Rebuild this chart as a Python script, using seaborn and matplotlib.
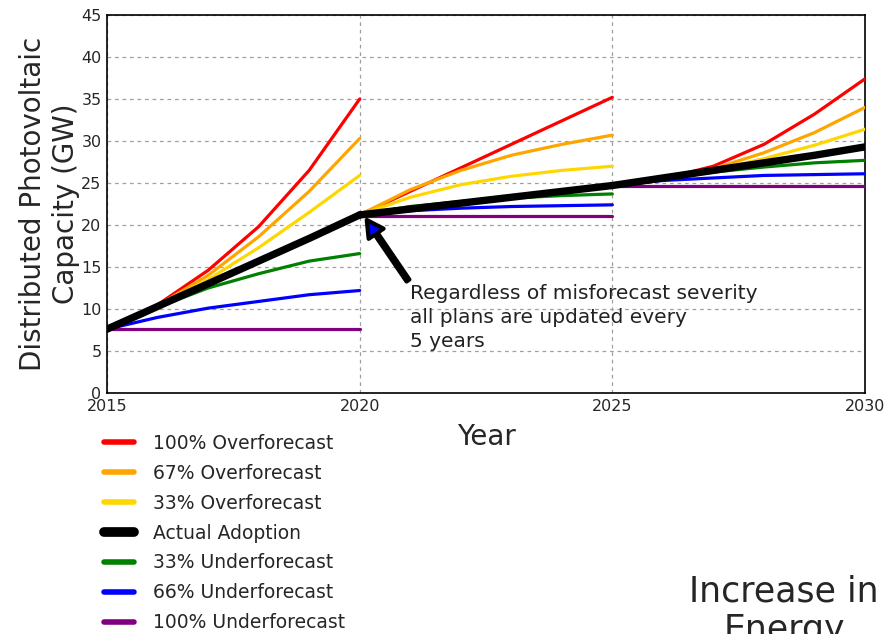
import numpy as np
import pandas as pd
import matplotlib
matplotlib.use("Agg")
import matplotlib.pyplot as plt
import seaborn as sns

# ---- data ----
seg1_years = [2015, 2016, 2017, 2018, 2019, 2020]
seg2_years = [2020, 2021, 2022, 2023, 2024, 2025]
seg3_years = [2025, 2026, 2027, 2028, 2029, 2030]

series_names = ["100% Overforecast", "67% Overforecast", "33% Overforecast",
                "Actual Adoption", "33% Underforecast", "66% Underforecast",
                "100% Underforecast"]
series_colors = ["#ff0000", "#ffa500", "#ffd700", "#000000", "#008000", "#0000ff", "#800080"]

over100_s1 = [7.6, 10.5, 14.6, 19.8, 26.5, 35.0]
over100_s2 = [21.2, 24.0, 26.8, 29.6, 32.4, 35.2]
over100_s3 = [24.7, 25.5, 27.0, 29.6, 33.2, 37.4]

over67_s1 = [7.6, 10.4, 14.0, 18.6, 24.0, 30.3]
over67_s2 = [21.2, 24.2, 26.5, 28.3, 29.6, 30.7]
over67_s3 = [24.7, 25.4, 26.7, 28.6, 31.0, 34.0]

over33_s1 = [7.6, 10.3, 13.5, 17.3, 21.5, 25.9]
over33_s2 = [21.2, 23.3, 24.8, 25.8, 26.5, 27.0]
over33_s3 = [24.7, 25.4, 26.5, 27.9, 29.5, 31.4]

actual_s1 = [7.6, 10.3, 13.0, 15.7, 18.4, 21.2]
actual_s2 = [21.2, 21.9, 22.6, 23.3, 24.0, 24.7]
actual_s3 = [24.7, 25.6, 26.5, 27.4, 28.3, 29.3]

under33_s1 = [7.6, 10.2, 12.5, 14.2, 15.7, 16.6]
under33_s2 = [21.2, 22.2, 22.8, 23.2, 23.5, 23.7]
under33_s3 = [24.7, 25.5, 26.3, 26.9, 27.4, 27.7]

under66_s1 = [7.6, 9.0, 10.1, 10.9, 11.7, 12.2]
under66_s2 = [21.2, 21.7, 22.0, 22.2, 22.3, 22.4]
under66_s3 = [24.7, 25.3, 25.6, 25.9, 26.0, 26.1]

under100_s1 = [7.6, 7.6, 7.6, 7.6, 7.6, 7.6]
under100_s2 = [21.1, 21.1, 21.1, 21.1, 21.1, 21.1]
under100_s3 = [24.6, 24.6, 24.6, 24.6, 24.6, 24.6]

series_values = [
    (over100_s1, over100_s2, over100_s3),
    (over67_s1, over67_s2, over67_s3),
    (over33_s1, over33_s2, over33_s3),
    (actual_s1, actual_s2, actual_s3),
    (under33_s1, under33_s2, under33_s3),
    (under66_s1, under66_s2, under66_s3),
    (under100_s1, under100_s2, under100_s3),
]
seg_years = [seg1_years, seg2_years, seg3_years]

x_ticks = [2015, 2020, 2025, 2030]
y_ticks = [0, 5, 10, 15, 20, 25, 30, 35, 40, 45]

rows = []
for name, segs in zip(series_names, series_values):
    for k, (yrs, vals) in enumerate(zip(seg_years, segs)):
        for yr, v in zip(yrs, vals):
            rows.append({"series": name, "segment": k, "year": yr, "value": v})
df = pd.DataFrame(rows)

# ---- plot ----
sns.set_style("white")
plt.rcParams['font.family'] = ['DejaVu Sans']

fig = plt.figure(figsize=(8.86, 6.34), dpi=100)
ax = fig.add_axes([107/886, 1 - 393/634, (865-107)/886, (393-15)/634])

for name, color in zip(series_names, series_colors):
    is_actual = name == "Actual Adoption"
    for k in range(3):
        sub = df[(df.series == name) & (df.segment == k)]
        sns.lineplot(data=sub, x="year", y="value", ax=ax, color=color,
                     lw=5.3 if is_actual else 2.3, zorder=4 if is_actual else 3,
                     label=name if k == 0 else None, legend=False,
                     estimator=None, sort=False)

ax.set_xlim(2015, 2030)
ax.set_ylim(0, 45)
ax.set_xticks(x_ticks)
ax.set_xticklabels([str(t) for t in x_ticks], fontsize=11.5)
ax.set_yticks(y_ticks)
ax.set_yticklabels([str(t) for t in y_ticks], fontsize=11.5)
ax.tick_params(direction="in", length=5, pad=4, color="black")
ax.grid(True, linestyle="--", color="#a0a0a0", linewidth=0.9, dashes=(3, 3))
ax.set_axisbelow(True)
for sp in ax.spines.values():
    sp.set_color("black")
    sp.set_linewidth(1.2)

ax.set_xlabel("Year", fontsize=20, labelpad=7)
ax.set_ylabel("Distributed Photovoltaic\nCapacity (GW)", fontsize=20, labelpad=1)

ax.annotate("Regardless of misforecast severity\nall plans are updated every\n5 years",
            xy=(2020.14, 20.6), xytext=(2021.0, 13.0),
            ha="left", va="top", fontsize=14.5, color="#222222", linespacing=1.35,
            arrowprops=dict(facecolor="blue", edgecolor="black", width=2.5,
                            headwidth=13, headlength=12, linewidth=3, shrink=0.0))

handles, labels = ax.get_legend_handles_labels()
leg = fig.legend(handles, labels, loc="upper left",
                 bbox_to_anchor=(104/886, 1 - 434/634), frameon=False,
                 fontsize=13.5, handlelength=1.6, handletextpad=1.0,
                 labelspacing=0.58, borderpad=0, borderaxespad=0)
for h, name in zip(leg.get_lines(), labels):
    h.set_linewidth(7 if name == "Actual Adoption" else 4)

fig.text(784/886, 1 - 611/634, "Increase in\nEnergy", ha="center", va="center",
         fontsize=25, multialignment="center", linespacing=1.15)

fig.savefig("out.png", dpi=100)
